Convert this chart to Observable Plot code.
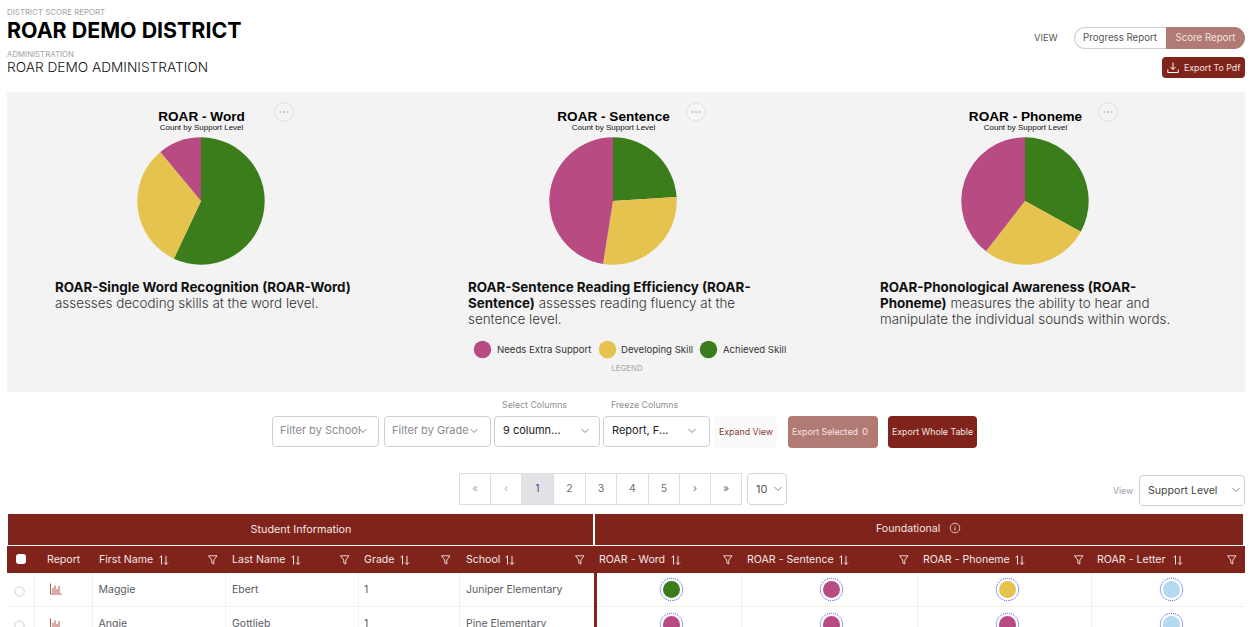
<!DOCTYPE html>
<html><head><meta charset="utf-8">
<script src="https://cdn.jsdelivr.net/npm/d3@7"></script>
<script src="https://cdn.jsdelivr.net/npm/@observablehq/plot@0.6"></script>
<style>
html,body{margin:0;padding:0;background:#fff;width:1254px;height:627px;overflow:hidden;font-family:Inter,"Noto Sans",sans-serif;}
#page{position:relative;width:1254px;height:627px;overflow:hidden;}
.a{position:absolute;white-space:nowrap;line-height:1;}
.mid{transform:translateY(-50%);}
.cx{transform:translate(-50%,-50%);}
.box{position:absolute;box-sizing:border-box;}
.sel{position:absolute;box-sizing:border-box;border:1px solid #cfcfd3;border-radius:4px;background:#fff;top:416px;height:31px;font-size:11px;line-height:27px;padding-left:7px;color:#222;}
.sel.ph{color:#8a8a8f;}
.th{position:absolute;top:546px;color:#f3e6e4;font-size:10.6px;line-height:27px;white-space:nowrap;}
.td{position:absolute;color:#5a5a5f;font-size:10.5px;line-height:1;white-space:nowrap;transform:translateY(-50%);}
.vl{position:absolute;top:573px;height:54px;width:1px;background:#f0f0f0;}
.pg{position:absolute;box-sizing:border-box;top:473px;height:32px;border:1px solid #dedee0;text-align:center;line-height:30px;font-size:10.5px;color:#6f6f75;background:#fff;}
svg.ic{position:absolute;overflow:visible;}
.desc{position:absolute;top:279px;width:340px;font-size:13.4px;line-height:16px;color:#333;font-weight:300;white-space:nowrap;}
.desc b{color:#111;font-weight:700;}
.mini{position:absolute;}
.mini svg,.pie svg{display:block;background:transparent;overflow:visible;}
.pie{position:absolute;top:91px;}
</style></head>
<body><div id="page"></div>
<script>
// ---- data ----
const levels = ["Needs Extra Support", "Developing Skill", "Achieved Skill", "Assessed"];
const levelColors = ["#b84b82", "#e6c24f", "#3b7d1b", "#b3daee"];
const pieOrder = ["Achieved Skill", "Developing Skill", "Needs Extra Support"];
const pieTitles = ["ROAR - Word", "ROAR - Sentence", "ROAR - Phoneme"];
const wordCounts = [57, 32, 11];
const sentenceCounts = [24, 28.5, 47.5];
const phonemeCounts = [33, 27.5, 39.5];
const descLines = [
  [["ROAR-Single Word Recognition (ROAR-Word)", ""], ["", "assesses decoding skills at the word level."]],
  [["ROAR-Sentence Reading Efficiency (ROAR-", ""], ["Sentence)", "assesses reading fluency at the"], ["", "sentence level."]],
  [["ROAR-Phonological Awareness (ROAR-", ""], ["Phoneme)", "measures the ability to hear and"], ["", "manipulate the individual sounds within words."]]
];
const firstNames = ["Maggie", "Angie"];
const lastNames = ["Ebert", "Gottlieb"];
const grades = ["1", "1"];
const schools = ["Juniper Elementary", "Pine Elementary"];
const wordLevels = ["Achieved Skill", "Needs Extra Support"];
const sentenceLevels = ["Needs Extra Support", "Needs Extra Support"];
const phonemeLevels = ["Developing Skill", "Needs Extra Support"];
const letterLevels = ["Assessed", "Assessed"];
const columnHeads = ["First Name", "Last Name", "Grade", "School", "ROAR - Word", "ROAR - Sentence", "ROAR - Phoneme", "ROAR - Letter"];
const pageLabels = ["«", "‹", "1", "2", "3", "4", "5", "›", "»"];

// ---- helpers ----
const page = document.getElementById("page");
const RED = "#7f231b", PALE = "#b27a74";
function add(html){const t=document.createElement("template");t.innerHTML=html.trim();const n=t.content.firstChild;page.appendChild(n);return n;}
function text(x,y,s,st="",cls="mid"){return add(`<div class="a ${cls}" style="left:${x}px;top:${y}px;${st}">${s}</div>`);}
function box(x,y,w,h,st=""){return add(`<div class="box" style="left:${x}px;top:${y}px;width:${w}px;height:${h}px;${st}"></div>`);}
function chevron(x,y,c="#77777c"){add(`<svg class="ic" style="left:${x-4}px;top:${y-3}px" width="8" height="6"><path d="M0.5 1 L4 4.5 L7.5 1" fill="none" stroke="${c}" stroke-width="0.9"/></svg>`);}
function filterIcon(x,y){add(`<svg class="ic" style="left:${x-5}px;top:${y-5}px" width="10" height="10"><path d="M0.5 0.8 H9 L5.8 5 V9 L3.8 8 V5 Z" fill="none" stroke="#f3e6e4" stroke-width="0.9"/></svg>`);}
function sortIcon(x,y){add(`<svg class="ic" style="left:${x}px;top:${y-5}px" width="10" height="10"><path d="M2.5 9.5 V0.8 M0.6 2.6 L2.5 0.8 M7 0.8 V9.5 M5 7.5 L7 9.5 L9 7.5" fill="none" stroke="#f3e6e4" stroke-width="1"/></svg>`);}
function reportIcon(x,y){add(`<svg class="ic" style="left:${x-6}px;top:${y-6}px" width="12" height="12"><path d="M0.5 0.5 V11 H11.5 M3 10 V5 M5 10 V2.5 M7 10 V6 M9 10 V3" fill="none" stroke="#a8443b" stroke-width="0.9"/></svg>`);}
const colorScale = {domain: levels, range: levelColors};

// status / legend dot drawn by Plot
function dot(cx, cy, level, ring){
  const r = ring ? 8.5 : 8.7, s = 30;
  const marks = [Plot.dot([level], {fill: d => d, r, frameAnchor: "middle", stroke: "none"})];
  if (ring) marks.unshift(Plot.dot([level], {r: 11.2, frameAnchor: "middle", fill: "none", stroke: "#2a2ae6", strokeWidth: 0.9, strokeDasharray: "1 1"}));
  const p = Plot.plot({width: s, height: s, margin: 0, axis: null, color: colorScale, style: {background: "transparent"}, marks});
  const w = add(`<div class="mini" style="left:${cx-s/2}px;top:${cy-s/2}px;width:${s}px;height:${s}px"></div>`);
  w.appendChild(p);
}

// pie slices: Plot's colour scale resolves fill, d3 lays the arcs out from the counts
function pie(cx, title, counts){
  const rows = pieOrder.map((level, i) => ({level, count: counts[i]}));
  const arcs = d3.pie().sort(null).value(d => d.count)(rows);
  const chart = Plot.plot({
    width: 300, height: 176,
    marginTop: 46, marginBottom: 2, marginLeft: 0, marginRight: 0,
    axis: null,
    color: colorScale,
    style: {background: "transparent"},
    marks: [
      Plot.dot(rows, {
        fill: "level",
        frameAnchor: "middle",
        render(index, scales, values, dim) {
          const R = (dim.height - dim.marginTop - dim.marginBottom) / 2;
          const arc = d3.arc().innerRadius(0).outerRadius(R - 0.3);
          const g = d3.create("svg:g").attr("transform", `translate(${dim.width / 2},${dim.marginTop + R})`);
          for (const i of index) g.append("path").attr("d", arc(arcs[i])).attr("fill", values.fill[i]);
          return g.node();
        }
      }),
      Plot.text([title], {text: d => d, frameAnchor: "top", dy: -26, fontSize: 13.6, fontWeight: 700, fontFamily: "Liberation Sans", fill: "#000"}),
      Plot.text(["Count by Support Level"], {text: d => d, frameAnchor: "top", dy: -13, fontSize: 8, fontFamily: "Liberation Sans", fill: "#111"})
    ]
  });
  const w = add(`<div class="pie" style="left:${cx-150}px;width:300px;height:176px"></div>`);
  w.appendChild(chart);
}

// ---- header ----
text(7,13,"DISTRICT SCORE REPORT","font-size:7.9px;color:#a3a3a3;");
text(7,31,"ROAR DEMO DISTRICT","font-size:21.4px;font-weight:700;color:#000;");
text(7,55,"ADMINISTRATION","font-size:7.8px;color:#a3a3a3;");
text(7,68,"ROAR DEMO ADMINISTRATION","font-size:13.7px;font-weight:300;color:#111;");
text(1034,38,"VIEW","font-size:9.3px;color:#555;");
box(1074,27,93,22,"border:1px solid #cfcfd3;border-right:none;border-radius:11px 0 0 11px;background:#fff;");
box(1166,27,79,22,`border-radius:0 11px 11px 0;background:${PALE};`);
text(1083,38,"Progress Report","font-size:9.7px;color:#555;");
text(1175.5,38,"Score Report","font-size:9.7px;color:#f1e3e1;");
box(1162,57,83,21,`background:${RED};border-radius:4px;`);
add(`<svg class="ic" style="left:1167px;top:62px" width="12" height="12"><path d="M6 0.5 V7.5 M3.5 5 L6 7.5 L8.5 5 M0.8 7.5 V10.5 H11.2 V7.5" fill="none" stroke="#fff" stroke-width="1"/></svg>`);
text(1184,67.5,"Export To Pdf","font-size:8.8px;color:#f3e6e4;");

// ---- panel ----
box(7,92,1238,300,"background:#f3f3f3;");
const centers = [201,613,1025];
pie(centers[0], pieTitles[0], wordCounts);
pie(centers[1], pieTitles[1], sentenceCounts);
pie(centers[2], pieTitles[2], phonemeCounts);
centers.forEach(c => {
  add(`<svg class="ic" style="left:${c+73}px;top:102px" width="20" height="20"><circle cx="10" cy="10" r="9.2" fill="#f5f5f5" stroke="#e2e2e2"/><circle cx="6.5" cy="10" r="1" fill="#bdbdbd"/><circle cx="10" cy="10" r="1" fill="#bdbdbd"/><circle cx="13.5" cy="10" r="1" fill="#bdbdbd"/></svg>`);
});
[55,468,880].forEach((x,i)=>{
  const html = descLines[i].map(([b,r]) => (b?`<b>${b}</b>`:"") + (b&&r?" ":"") + (r?`<span>${r}</span>`:"")).join("<br>");
  add(`<div class="desc" style="left:${x}px">${html}</div>`);
});
dot(482,349,levels[0],false); dot(607,349,levels[1],false); dot(708,349,levels[2],false);
text(497,350,levels[0],"font-size:9.6px;color:#333;");
text(621,350,levels[1],"font-size:9.6px;color:#333;");
text(723,350,levels[2],"font-size:9.6px;color:#333;");
text(627,369,"LEGEND","font-size:7.8px;color:#a8a8a8;","cx");

// ---- controls ----
text(502,405,"Select Columns","font-size:8.8px;color:#8f8f93;");
text(611,405,"Freeze Columns","font-size:8.8px;color:#8f8f93;");
add(`<div class="sel ph" style="left:272px;width:107px">Filter by School</div>`); chevron(363,431);
add(`<div class="sel ph" style="left:384px;width:107px">Filter by Grade</div>`); chevron(474,431);
add(`<div class="sel" style="left:494px;width:106px;padding-left:8px">9 column...</div>`); chevron(585,431);
add(`<div class="sel" style="left:603px;width:107px;padding-left:8px">Report, F...</div>`); chevron(692,431);
box(714,416,63,32,"background:#fafafa;border-radius:4px;");
text(746,432,"Expand View","font-size:8.8px;color:#8b3a32;","cx");
box(788,416,90,32,`background:${PALE};border-radius:4px;`);
text(792,432,"Export Selected","font-size:8.8px;color:#f3e6e4;");
text(862,432,"0","font-size:9.5px;color:#f3e6e4;");
box(888,416,89,32,`background:${RED};border-radius:4px;`);
text(932.5,432,"Export Whole Table","font-size:8.8px;color:#f3e6e4;","cx");

// ---- pagination ----
const pgX=[459,490,521,553,585,616,648,679,710,741];
pageLabels.forEach((l,i)=>{
  const on=l==="1";
  add(`<div class="pg" style="left:${pgX[i]}px;width:${pgX[i+1]-pgX[i]+1}px;${on?"background:#e2e2e6;color:#4a4a90;":""}${i<2?"color:#b0b0b5;":""}">${l}</div>`);
});
add(`<div class="pg" style="left:747px;width:40px;border-radius:4px;text-align:left;padding-left:8px;font-size:11px;color:#555;border-color:#d5d5d8">10</div>`); chevron(778,489);
text(1113,491,"View","font-size:8.7px;color:#9a9a9e;");
add(`<div class="sel" style="left:1139px;width:106px;top:475px;height:31px;color:#444;font-size:10.6px;line-height:29px;padding-left:8px">Support Level</div>`); chevron(1236,490);

// ---- table ----
box(8,514,585,31,`background:${RED};`);
box(595,514,648,31,`background:${RED};`);
box(7,546,1238,27,`background:${RED};`);
text(301,530,"Student Information","font-size:10.8px;color:#f3e6e4;","cx");
text(876,529,"Foundational","font-size:10.6px;color:#f3e6e4;");
add(`<svg class="ic" style="left:949px;top:522px" width="12" height="12"><circle cx="6" cy="6" r="4.8" fill="none" stroke="#f3e6e4" stroke-width="0.8"/><path d="M6 5.4 V8.5 M6 3.5 V4.3" stroke="#f3e6e4" stroke-width="0.9"/></svg>`);
box(16,554,10,10,"background:#fff;border-radius:3px;");
add(`<div class="th" style="left:47px">Report</div>`);
const thX=[99,232,364,466,599,747,923,1097];
const sortX=[159,291,400,505,671,839,1015,1173];
const filterX=[213,345,446,580,728,904,1079,1232];
columnHeads.forEach((h,i)=>{
  add(`<div class="th" style="left:${thX[i]}px">${h}</div>`);
  sortIcon(sortX[i],560); filterIcon(filterX[i],559.5);
});
[34,92,225,358,459,741,917,1091].forEach(x=>add(`<div class="vl" style="left:${x}px"></div>`));
box(7,606,1238,1,"background:#f0f0f0;");
box(594,573,3,54,`background:${RED};`);
const rowY=[589,623.5];
firstNames.forEach((n,i)=>{
  const y=rowY[i], ty=y+0.8;
  add(`<svg class="ic" style="left:14px;top:${y-3.5}px" width="11" height="11"><circle cx="5.5" cy="5.5" r="4.7" fill="#fff" stroke="#cfcfd3"/></svg>`);
  reportIcon(56,y);
  text(98.5,ty,n,"","td").className="td";
  text(232,ty,lastNames[i],"","td").className="td";
  text(364,ty,grades[i],"","td").className="td";
  text(466,ty,schools[i],"","td").className="td";
  dot(671.3,y,wordLevels[i],true);
  dot(831,y,sentenceLevels[i],true);
  dot(1007,y,phonemeLevels[i],true);
  dot(1171,y,letterLevels[i],true);
});
</script></body></html>
